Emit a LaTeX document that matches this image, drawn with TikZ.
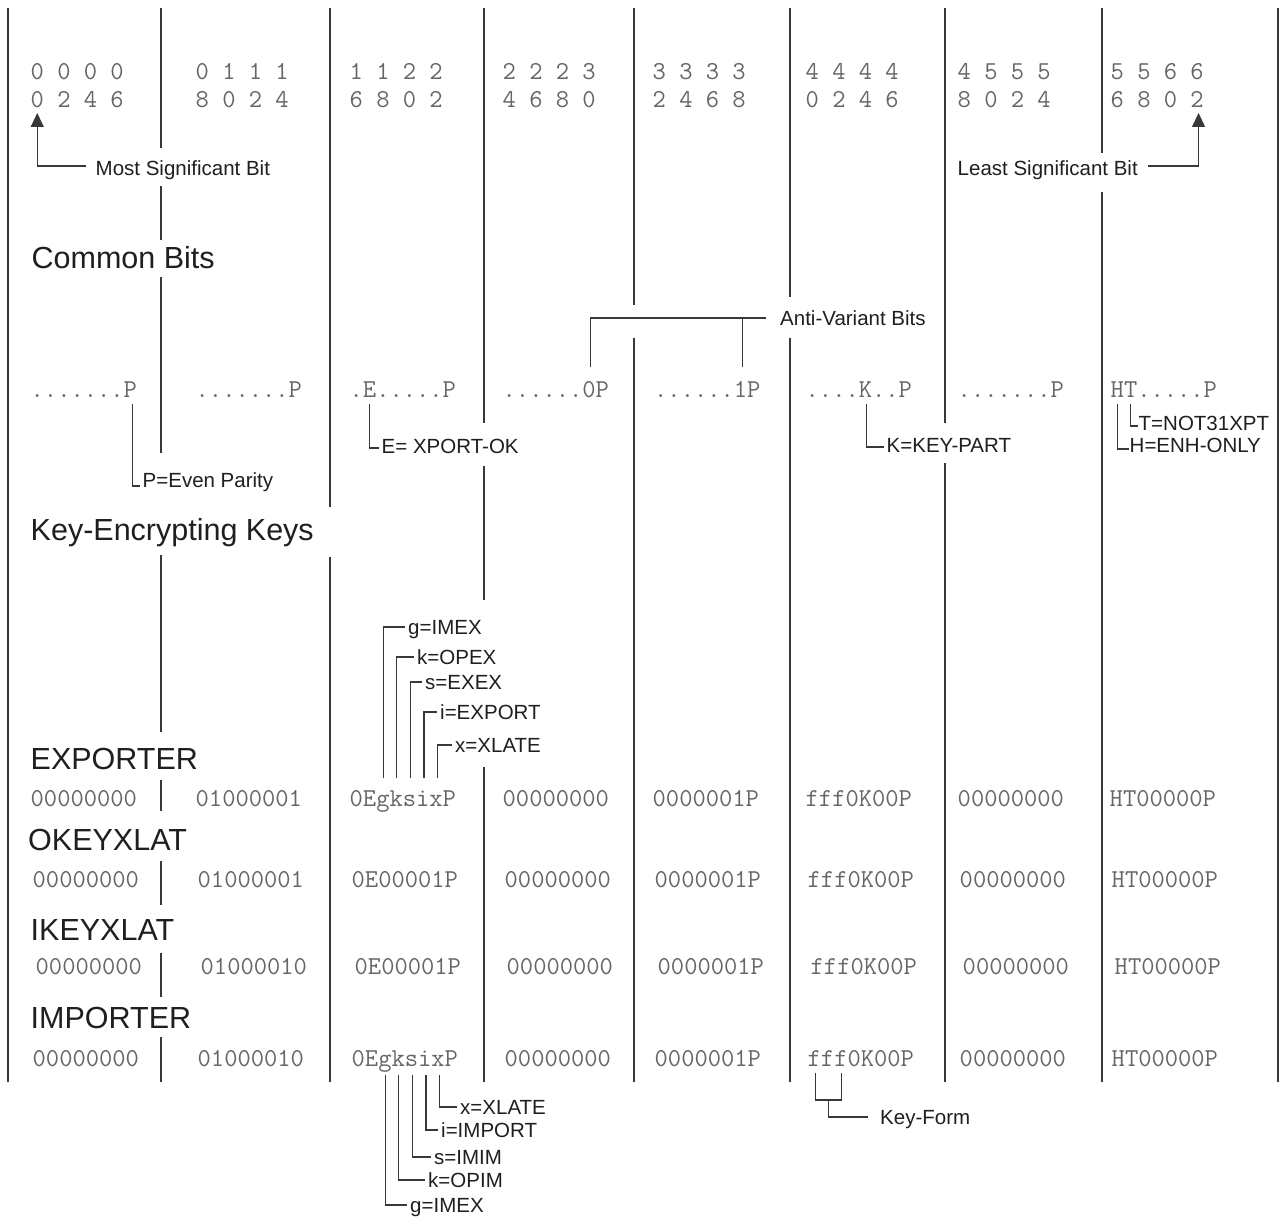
\documentclass[tikz,border=0pt]{standalone}
\usepackage{fontspec}
\setmainfont{Liberation Sans}
\usetikzlibrary{arrows.meta,calc}
\begin{document}
\begin{tikzpicture}[x=1pt,y=-1pt,
  rule/.style={draw=black!78,line width=1.2pt},
  lead/.style={draw=black!78,line width=1.1pt},
  bits/.style={anchor=base west,inner sep=0pt,text=black!60,font=\ttfamily\fontsize{25.8}{27}\selectfont},
  lbl/.style={anchor=base west,inner sep=0pt,text=black!88,font=\fontsize{20.5}{22}\selectfont},
  ttl/.style={anchor=base west,inner sep=0pt,text=black!88,font=\fontsize{30.5}{32}\selectfont},
  tip/.style={-{Triangle[length=14pt,width=13pt]}}]
\def\cw{13.545}% width of one monospaced character
\fill[white] (0,0) rectangle (1284,1220);
\useasboundingbox (0,0) rectangle (1284,1220);

% column dividers, broken where labels cross them
\foreach \x/\a/\b in {8/8/1082,
    161/8/148, 161/186/240, 161/277/453, 161/555/732,
    161/780/811, 161/861/905, 161/953/997, 161/1037/1082,
    330/8/507, 330/557/1082,
    484/8/423, 484/466/600, 484/767/1082,
    634/8/305, 634/338/1082,
    790/8/297, 790/338/1082,
    945/8/423, 945/463/1082,
    1102/8/153, 1102/192/1082,
    1278/8/1082}
  \draw[rule] (\x,\a) -- (\x,\b);

% bit numbering
\foreach \i/\x/\t/\u in {1/30.5/0 0 0 0/0 2 4 6, 2/195.5/0 1 1 1/8 0 2 4,
    3/349.5/1 1 2 2/6 8 0 2, 4/502.5/2 2 2 3/4 6 8 0, 5/652.5/3 3 3 3/2 4 6 8,
    6/805.5/4 4 4 4/0 2 4 6, 7/957.5/4 5 5 5/8 0 2 4, 8/1110.5/5 5 6 6/6 8 0 2}{
  \node[bits] (h1-\i) at (\x,80) {\t};
  \node[bits] (h2-\i) at (\x,107) {\u};
}
\node[lbl] (msb) at (95.5,175) {Most Significant Bit};
\node[lbl] (lsb) at (957.5,175) {Least Significant Bit};
\draw[lead,tip] ($(msb.base west)+(-10,-9)$) -| ($(h2-1.base west)+(0.5*\cw,6)$);
\draw[lead,tip] ($(lsb.base east)+(10,-9)$) -| ($(h2-8.base west)+(6.5*\cw,6)$);

% common bits
\node[ttl] (common) at (31.5,268) {Common Bits};
\node[bits] (d1) at (30.5,397) {.......P};
\node[bits] (d2) at (195.5,397) {.......P};
\node[bits] (d3) at (349.5,397) {.E.....P};
\node[bits] (d4) at (502.5,397) {......0P};
\node[bits] (d5) at (654,397) {......1P};
\node[bits] (d6) at (805.5,397) {....K..P};
\node[bits] (d7) at (957.5,397) {.......P};
\node[bits] (d8) at (1110.5,397) {HT.....P};

\node[lbl] (av) at (780,325) {Anti-Variant Bits};
\coordinate (av0) at ($(d4.base west)+(6.5*\cw,-30)$);
\coordinate (av1) at ($(d5.base west)+(6.5*\cw,-30)$);
\draw[lead] (av0) |- ($(av.base west)+(-14,-7)$);
\draw[lead] (av1) |- ($(av.base west)+(-14,-7)$);

\node[lbl] (pe) at (142.5,487) {P=Even Parity};
\node[lbl] (xo) at (381.5,453) {E= XPORT-OK};
\node[lbl] (kp) at (886.5,452) {K=KEY-PART};
\node[lbl] (tn) at (1138.5,430) {T=NOT31XPT};
\node[lbl] (he) at (1129.5,452) {H=ENH-ONLY};
\draw[lead] ($(d1.base west)+(7.5*\cw,7)$) |- ($(pe.base west)+(-3,-1)$);
\draw[lead] ($(d3.base west)+(1.5*\cw,7)$) |- ($(xo.base west)+(-3,-5)$);
\draw[lead] ($(d6.base west)+(4.5*\cw,7)$) |- ($(kp.base west)+(-3,-5)$);
\draw[lead] ($(d8.base west)+(1.5*\cw,7)$) |- ($(tn.base west)+(-1,-4)$);
\draw[lead] ($(d8.base west)+(0.5*\cw,7)$) |- ($(he.base west)+(-1,-3)$);

% key-encrypting keys
\node[ttl] (kek) at (30.5,540) {Key-Encrypting Keys};

\node[ttl] (exp) at (30.5,769) {EXPORTER};
\foreach \i/\x/\t in {1/30.5/00000000, 2/195.5/01000001, 3/349.5/0EgksixP,
    4/502.5/00000000, 5/652.5/0000001P, 6/805.5/fff0K00P, 7/957.5/00000000,
    8/1109.5/HT00000P}
  \node[bits] (e\i) at (\x,806) {\t};

\node[ttl] (okx) at (28,850) {OKEYXLAT};
\foreach \i/\x/\t in {1/32.5/00000000, 2/197.5/01000001, 3/351.5/0E00001P,
    4/504.5/00000000, 5/654.5/0000001P, 6/807.5/fff0K00P, 7/959.5/00000000,
    8/1111.5/HT00000P}
  \node[bits] (o\i) at (\x,887) {\t};

\node[ttl] (ikx) at (30.5,940) {IKEYXLAT};
\foreach \i/\x/\t in {1/35.5/00000000, 2/200.5/01000010, 3/354.5/0E00001P,
    4/506.5/00000000, 5/657.5/0000001P, 6/810.5/fff0K00P, 7/962.5/00000000,
    8/1114.5/HT00000P}
  \node[bits] (n\i) at (\x,974) {\t};

\node[ttl] (imp) at (30.5,1028) {IMPORTER};
\foreach \i/\x/\t in {1/32.5/00000000, 2/197.5/01000010, 3/351.5/0EgksixP,
    4/504.5/00000000, 5/654.5/0000001P, 6/807.5/fff0K00P, 7/959.5/00000000,
    8/1111.5/HT00000P}
  \node[bits] (m\i) at (\x,1066) {\t};

% exporter control bits
\node[lbl] (eg) at (408,634) {g=IMEX};
\node[lbl] (ek) at (417,664) {k=OPEX};
\node[lbl] (es) at (425,689) {s=EXEX};
\node[lbl] (ei) at (440,719) {i=EXPORT};
\node[lbl] (ex) at (455,752) {x=XLATE};
\foreach \c/\k in {eg/2, ek/3, es/4, ei/5, ex/6}
  \draw[lead] ($(e3.base west)+(\k*\cw+0.5*\cw,-28)$) |- ($(\c.base west)+(-3,-7)$);

% importer control bits
\node[lbl] (mx) at (460,1114) {x=XLATE};
\node[lbl] (mi) at (441,1137) {i=IMPORT};
\node[lbl] (ms) at (434,1164) {s=IMIM};
\node[lbl] (mk) at (428,1187) {k=OPIM};
\node[lbl] (mg) at (410,1212) {g=IMEX};
\foreach \c/\k in {mg/2, mk/3, ms/4, mi/5, mx/6}
  \draw[lead] ($(m3.base west)+(\k*\cw+0.5*\cw,9)$) |- ($(\c.base west)+(-3,-7)$);

% key form bracket
\node[lbl] (kf) at (880,1124) {Key-Form};
\coordinate (kf1) at ($(m6.base west)+(0.6*\cw,7)$);
\coordinate (kf3) at ($(m6.base west)+(2.5*\cw,7)$);
\draw[lead] (kf1) -- ++(0,27) -| (kf3);
\draw[lead] ($(kf1)!0.5!(kf3)+(0,27)$) |- ($(kf.base west)+(-12,-7)$);
\end{tikzpicture}
\end{document}
